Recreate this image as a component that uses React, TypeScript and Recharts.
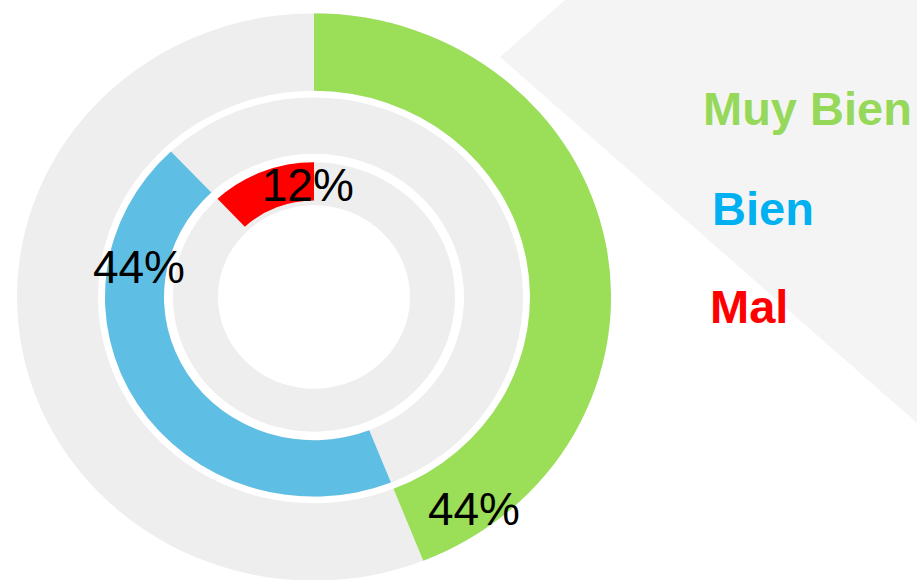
import { PieChart, Pie, Cell } from 'recharts';

const categories = ['Muy Bien', 'Bien', 'Mal'];
const shares = [44, 44, 12];
const shareLabels = ['44%', '44%', '12%'];

const SLICE_COLORS = ['#9bde58', '#5fbee3', '#ff0000'];
const TEXT_COLORS = ['#96d95a', '#00b0f0', '#ff0000'];
const TRACK = '#eeeeee';
const FONT = 'Arial, "Liberation Sans", sans-serif';
const RAD = Math.PI / 180;

// the original rings are slightly flattened, so the chart is squeezed vertically
const SQUASH = 0.955;

// one entry per ring, outermost first; labelAt = fraction along the slice, labelR = radius of the label
const RINGS = [
  { inner: 216, outer: 297, trackInner: 216, trackOuter: 297, labelAt: 0.91, labelR: 273 },
  { inner: 150, outer: 209, trackInner: 150, trackOuter: 209, labelAt: 0.77, labelR: 178 },
  { inner: 101, outer: 141, trackInner: 96, trackOuter: 141, labelAt: 0.93, labelR: 118 },
];

// legend positions (text x, baseline y)
const LEGEND_POS = [
  { x: 703, y: 125 },
  { x: 712, y: 225 },
  { x: 710, y: 323 },
];

const CX = 314;
const CY = 297;

function ringData(i: number) {
  const before = shares.slice(0, i).reduce((a, b) => a + b, 0);
  const after = 100 - before - shares[i];
  return [
    { name: 'before', value: before },
    { name: categories[i], value: shares[i] },
    { name: 'after', value: after },
  ].filter((d) => d.value > 0);
}

const makeLabel = (i: number) => (props: any) => {
  if (props.name !== categories[i]) return null;
  const ring = RINGS[i];
  const angle = props.startAngle + ring.labelAt * (props.endAngle - props.startAngle);
  const x = props.cx + ring.labelR * Math.cos(-angle * RAD);
  const y = props.cy + ring.labelR * Math.sin(-angle * RAD);
  return (
    <text
      transform={`translate(${x},${y}) scale(1,${1 / SQUASH})`}
      dy="0.36em"
      textAnchor="middle"
      fill="#000"
      fontSize={46}
      fontFamily={FONT}
    >
      {shareLabels[i]}
    </text>
  );
};

export default function App() {
  return (
    <div style={{ position: 'absolute', left: 0, top: 0, width: 917, height: 580, overflow: 'hidden', background: '#fff' }}>
      <svg width={917} height={580} style={{ position: 'absolute', left: 0, top: 0 }}>
        <polygon points="565,0 917,0 917,423 500,57" fill="#f4f4f4" />
        {categories.map((c, i) => (
          <text key={c} x={LEGEND_POS[i].x} y={LEGEND_POS[i].y} fill={TEXT_COLORS[i]} fontSize={47} fontWeight="bold" fontFamily={FONT}>
            {c}
          </text>
        ))}
      </svg>
      <div style={{ position: 'absolute', left: 0, top: 0, transform: `scaleY(${SQUASH})`, transformOrigin: `0px ${CY}px` }}>
        <PieChart width={917} height={610} margin={{ top: 0, right: 0, bottom: 0, left: 0 }}>
          {RINGS.map((r, i) => (
            <Pie
              key={'track' + i}
              data={[{ name: 'track', value: 1 }]}
              dataKey="value"
              cx={CX}
              cy={CY}
              innerRadius={r.trackInner}
              outerRadius={r.trackOuter}
              startAngle={90}
              endAngle={-270}
              fill={TRACK}
              stroke="none"
              isAnimationActive={false}
            />
          ))}
          {RINGS.map((r, i) => (
            <Pie
              key={'ring' + i}
              data={ringData(i)}
              dataKey="value"
              cx={CX}
              cy={CY}
              innerRadius={r.inner}
              outerRadius={r.outer}
              startAngle={90}
              endAngle={-270}
              stroke="none"
              label={makeLabel(i)}
              labelLine={false}
              isAnimationActive={false}
            >
              {ringData(i).map((d) => (
                <Cell key={d.name} fill={d.name === categories[i] ? SLICE_COLORS[i] : 'transparent'} />
              ))}
            </Pie>
          ))}
        </PieChart>
      </div>
    </div>
  );
}
